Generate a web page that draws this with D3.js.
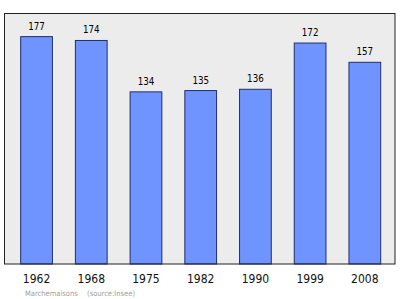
<!DOCTYPE html>
<html>
<head>
<meta charset="utf-8">
<script src="https://cdn.jsdelivr.net/npm/d3@7"></script>
<style>
  body { margin: 0; background: #fff; }
  svg { display: block; }
  text { font-family: "DejaVu Sans Condensed", "DejaVu Sans", sans-serif; font-stretch: condensed; }
</style>
</head>
<body>
<svg id="chart"></svg>
<script>
// Data
const years = ["1962", "1968", "1975", "1982", "1990", "1999", "2008"];
const population = [177, 174, 134, 135, 136, 172, 157];
const commune = "Marchemaisons";
const source = "(source:Insee)";

const width = 400;
const height = 299;
const plot = { left: 4.5, top: 13.5, right: 395, bottom: 264 };

const svg = d3.select("#chart")
    .attr("width", width)
    .attr("height", height);

// Scales
const xScale = d3.scaleBand()
    .domain(years)
    .range([9.2, 392.2])
    .paddingInner(0.42)
    .paddingOuter(0.21);

const yScale = d3.scaleLinear()
    .domain([0, 195])
    .range([plot.bottom, plot.top]);

// Plot background
svg.append("rect")
    .attr("x", plot.left)
    .attr("y", plot.top)
    .attr("width", plot.right - plot.left)
    .attr("height", plot.bottom - plot.top)
    .attr("fill", "#ececec");

// Bars
svg.selectAll(".bar")
    .data(population)
    .enter()
    .append("rect")
    .attr("class", "bar")
    .attr("x", (d, i) => xScale(years[i]))
    .attr("y", d => yScale(d))
    .attr("width", xScale.bandwidth())
    .attr("height", d => yScale(0) - yScale(d))
    .attr("fill", "#6f94ff")
    .attr("stroke", "#1f2f6a")
    .attr("stroke-width", 1);

// Value labels
svg.selectAll(".value")
    .data(population)
    .enter()
    .append("text")
    .attr("class", "value")
    .attr("x", (d, i) => xScale(years[i]) + xScale.bandwidth() / 2)
    .attr("y", d => yScale(d) - 7)
    .attr("text-anchor", "middle")
    .attr("font-size", 9.7)
    .attr("fill", "#000")
    .text(d => d);

// Frame
svg.append("rect")
    .attr("x", plot.left)
    .attr("y", plot.top)
    .attr("width", plot.right - plot.left)
    .attr("height", plot.bottom - plot.top)
    .attr("fill", "none")
    .attr("stroke", "#222")
    .attr("stroke-width", 1);

// X axis labels
const xAxis = d3.axisBottom(xScale).tickSize(0).tickPadding(0);
const gx = svg.append("g")
    .attr("transform", `translate(0, ${plot.bottom})`)
    .call(xAxis);
gx.select(".domain").remove();
gx.attr("font-family", null);
gx.selectAll("text")
    .attr("y", 18.7)
    .attr("dy", null)
    .attr("font-size", 12)
    .attr("fill", "#111");

// Footer
svg.append("text")
    .attr("x", 25)
    .attr("y", 295.5)
    .attr("font-size", 7.5)
    .attr("fill", "#a0a0a0")
    .text(commune);

svg.append("text")
    .attr("x", 87)
    .attr("y", 295.5)
    .attr("font-size", 7.5)
    .attr("fill", "#a0a0a0")
    .text(source);
</script>
</body>
</html>
